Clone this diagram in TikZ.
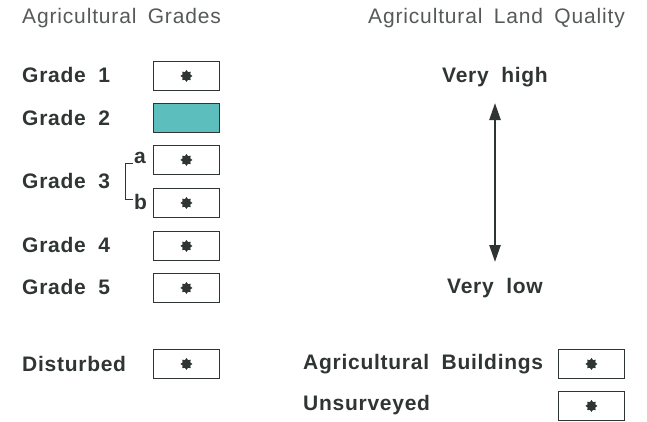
\documentclass[tikz,border=0pt]{standalone}
\usepackage{fontspec}
\setmainfont{Liberation Sans}
\newfontfamily\lblfont[LetterSpace=3.5,WordSpace=1.9]{Liberation Sans}
\newfontfamily\ttlfont[LetterSpace=4,WordSpace=1.7]{Liberation Sans}
\usetikzlibrary{shapes.geometric,arrows.meta}
\definecolor{ink}{HTML}{2F3532}
\definecolor{title}{HTML}{555A58}
\definecolor{teal2}{HTML}{5CBFBE}
\tikzset{
  lbl/.style={anchor=west,inner sep=0pt,text=ink,font=\lblfont\fontsize{21}{24}\selectfont\bfseries},
  clbl/.style={lbl,anchor=center},
  ttl/.style={anchor=west,inner sep=0pt,text=title,font=\ttlfont\fontsize{21}{24}\selectfont},
  keybox/.style={draw=ink,line width=0.9pt,minimum width=66pt,minimum height=29pt,inner sep=0pt,anchor=north west},
  starmark/.style={star,star points=8,star point ratio=1.45,fill=ink,draw=none,minimum size=12pt,inner sep=0pt},
}
\begin{document}
\begin{tikzpicture}[x=1pt,y=-1pt]
\useasboundingbox (0,0) rectangle (647,421);
% titles
\node[ttl] (t1) at (22,18) {Agricultural Grades};
\node[ttl] (t2) at (368,18) {Agricultural Land Quality};
% labels
\node[lbl] (g1) at (22,75) {Grade 1};
\node[lbl] (g2) at (22,118) {Grade 2};
\node[lbl] (g3) at (22,181) {Grade 3};
\node[lbl] (g4) at (22,245) {Grade 4};
\node[lbl] (g5) at (22,287) {Grade 5};
\node[lbl] (dis) at (22,364) {Disturbed};
\node[lbl] (ab) at (303,364) {Agricultural Buildings};
\node[lbl] (un) at (303,405) {Unsurveyed};
\node[lbl] (la) at (134,158) {a};
\node[lbl] (lb) at (134,202) {b};
% boxes
\node[keybox] (b1) at (153,61) {};
\node[keybox,fill=teal2] (b2) at (153,103) {};
\node[keybox] (b3a) at (153,145) {};
\node[keybox] (b3b) at (153,188) {};
\node[keybox] (b4) at (153,231) {};
\node[keybox] (b5) at (153,273) {};
\node[keybox] (bd) at (153,349) {};
\node[keybox] (bab) at (558,349) {};
\node[keybox] (bun) at (558,391) {};
\foreach \b in {b1,b3a,b3b,b4,b5,bd,bab,bun}{
  \node[starmark] at (\b.center) {};
}
% bracket
\coordinate (brt) at (133,163);
\coordinate (brb) at (133,199);
\draw[ink,line width=0.9pt] (brt) -- ++(-8,0) |- (brb);
% quality scale
\node[clbl] (vh) at (495,77) {Very high};
\node[clbl] (vl) at (495,288) {Very low};
\coordinate (at) at (495,103);
\coordinate (ab2) at (495,262);
\draw[ink,line width=2.4pt,{Triangle[length=17pt,width=11pt]}-{Triangle[length=17pt,width=11pt]}] (at) -- (ab2);
\end{tikzpicture}
\end{document}
